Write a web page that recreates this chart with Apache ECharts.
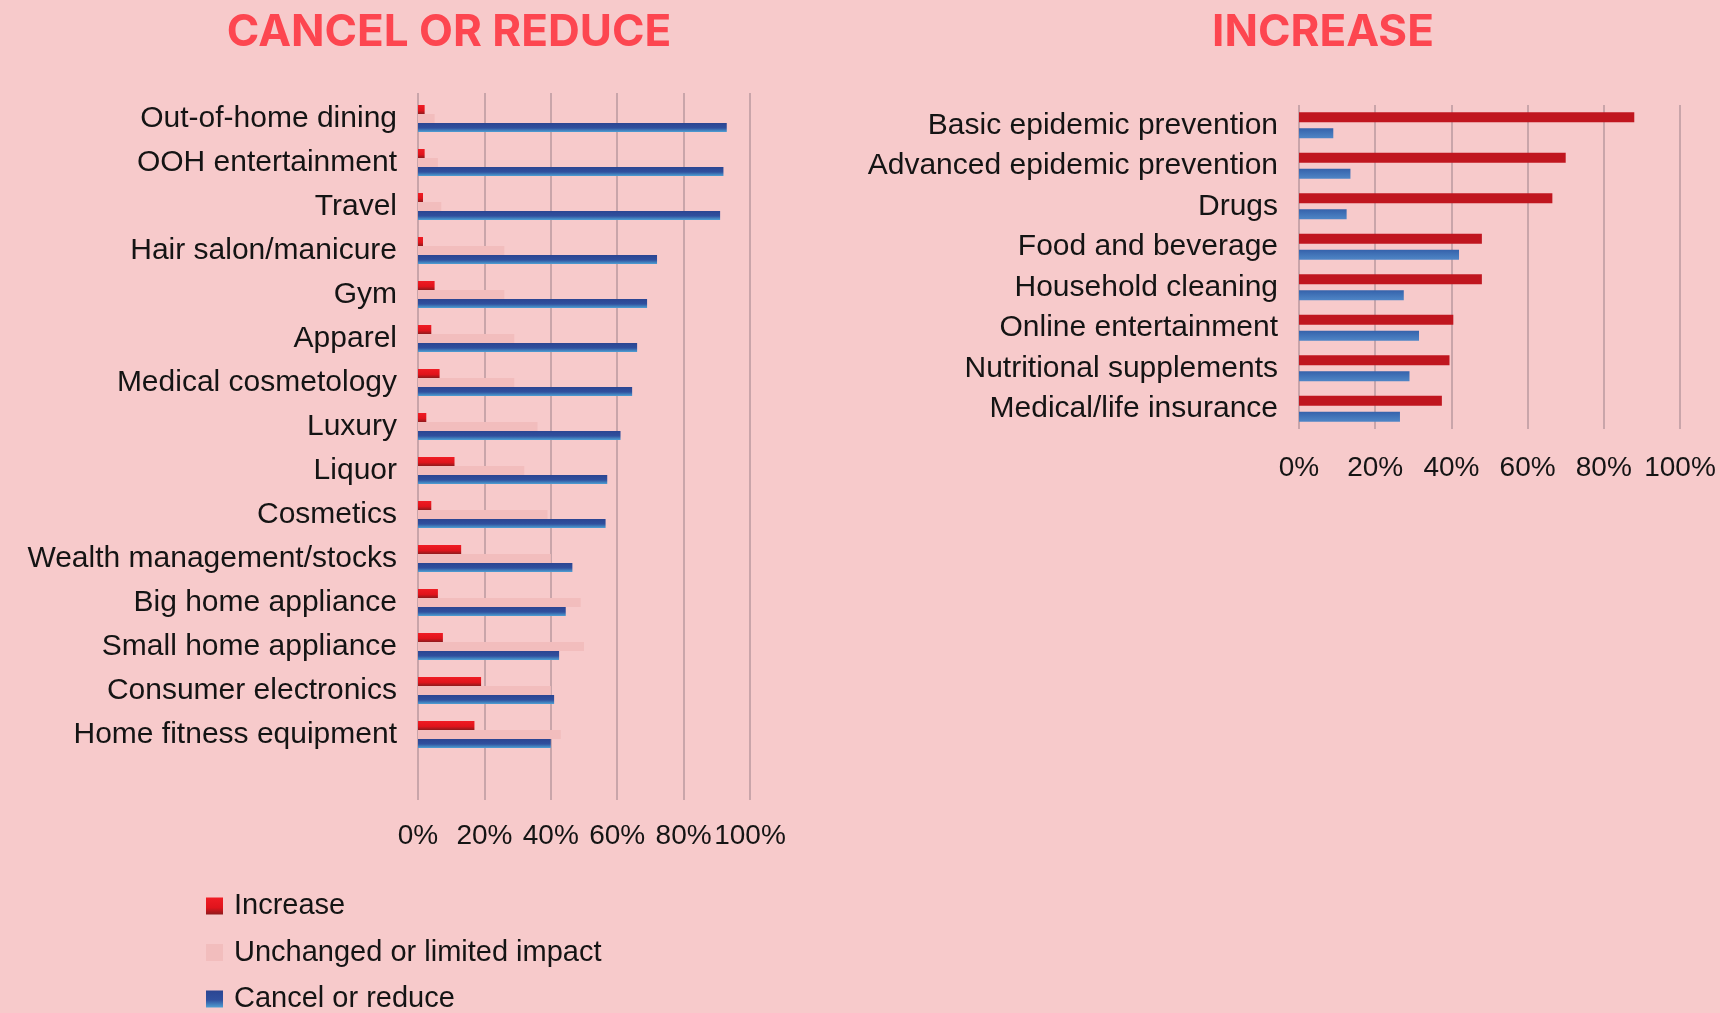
<!DOCTYPE html>
<html>
<head>
<meta charset="utf-8">
<title>Consumer spending intentions</title>
<script src="https://cdn.jsdelivr.net/npm/echarts@6/dist/echarts.min.js"></script>
<style>
  html, body { margin: 0; padding: 0; background: #f7cacb; }
  #chart { width: 1720px; height: 1013px; }
</style>
</head>
<body>
<div id="chart"></div>
<script>
// Spending categories people plan to cancel or reduce (left panel)
const cutCategories = [
  'Out-of-home dining', 'OOH entertainment', 'Travel', 'Hair salon/manicure',
  'Gym', 'Apparel', 'Medical cosmetology', 'Luxury', 'Liquor', 'Cosmetics',
  'Wealth management/stocks', 'Big home appliance', 'Small home appliance',
  'Consumer electronics', 'Home fitness equipment'
];
const cutIncrease  = [2, 2, 1.5, 1.5, 5, 4, 6.5, 2.5, 11, 4, 13, 6, 7.5, 19, 17];
const cutUnchanged = [5, 6, 7, 26, 26, 29, 29, 36, 32, 39, 40, 49, 50, 40, 43];
const cutCancel    = [93, 92, 91, 72, 69, 66, 64.5, 61, 57, 56.5, 46.5, 44.5, 42.5, 41, 40];

// Spending categories people plan to increase (right panel)
const growCategories = [
  'Basic epidemic prevention', 'Advanced epidemic prevention', 'Drugs',
  'Food and beverage', 'Household cleaning', 'Online entertainment',
  'Nutritional supplements', 'Medical/life insurance'
];
const growIncrease = [88, 70, 66.5, 48, 48, 40.5, 39.5, 37.5];
const growCancel   = [9, 13.5, 12.5, 42, 27.5, 31.5, 29, 26.5];

// Shared percentage scale
const pctMin = 0, pctMax = 100, pctStep = 20;
const seriesNames = ['Increase', 'Unchanged or limited impact', 'Cancel or reduce'];

const FONT = '"Liberation Sans", Arial, Helvetica, sans-serif';
const TITLE_FONT = 'Inter, "Liberation Sans", sans-serif';
const TEXT = '#141414';
const GRID_LINE = '#c9a5aa';

const redBright = new echarts.graphic.LinearGradient(0, 0, 0, 1, [
  { offset: 0, color: '#f01c24' }, { offset: 0.6, color: '#e0141c' }, { offset: 1, color: '#8e1a1c' }
]);
const blueBright = new echarts.graphic.LinearGradient(0, 0, 0, 1, [
  { offset: 0, color: '#2b4592' }, { offset: 0.55, color: '#30509e' }, { offset: 1, color: '#4fa0d3' }
]);
const redDeep = '#c0161f';
const blueDeep = new echarts.graphic.LinearGradient(0, 0, 0, 1, [
  { offset: 0, color: '#3562ab' }, { offset: 1, color: '#4f86c6' }
]);

function pctAxis(gridIndex, showLabels, labelMargin) {
  return {
    type: 'value', gridIndex, min: pctMin, max: pctMax, interval: pctStep,
    axisLine: { show: false }, axisTick: { show: false },
    splitLine: { show: showLabels, lineStyle: { color: GRID_LINE, width: 2 } },
    axisLabel: {
      show: showLabels, formatter: '{value}%', margin: labelMargin,
      color: TEXT, fontSize: 28, fontFamily: FONT
    }
  };
}

function catAxis(gridIndex, data, dropPx) {
  return {
    type: 'category', gridIndex, data, inverse: true,
    axisLine: { show: false }, axisTick: { show: false },
    axisLabel: { margin: 21, color: TEXT, fontSize: 30, fontFamily: FONT, padding: [dropPx, 0, 0, 0] }
  };
}

const chart = echarts.init(document.getElementById('chart'));
chart.setOption({
  backgroundColor: '#f7cacb',
  animation: false,
  title: [
    { text: 'CANCEL OR REDUCE', left: 449, top: 11, textAlign: 'center', padding: 0,
      textStyle: { color: '#fd4650', fontSize: 44, fontWeight: 'bold', fontFamily: TITLE_FONT } },
    { text: 'INCREASE', left: 1323, top: 11, textAlign: 'center', padding: 0,
      textStyle: { color: '#fd4650', fontSize: 44, fontWeight: 'bold', fontFamily: TITLE_FONT } }
  ],
  legend: {
    data: seriesNames, orient: 'vertical', left: 206, top: 891, padding: 0,
    height: 130,
    icon: 'rect', itemWidth: 17, itemHeight: 17, itemGap: 16.5,
    textStyle: { color: TEXT, fontSize: 29, fontFamily: FONT, lineHeight: 30, padding: [0, 0, 0, 6] }
  },
  grid: [
    // left panel: full-height gridlines and tick labels
    { left: 418, width: 332, top: 93, height: 707 },
    // left panel: bars
    { left: 418, width: 332, top: 96.5, height: 660 },
    // right panel
    { left: 1299, width: 381, top: 105, height: 324 }
  ],
  xAxis: [
    pctAxis(0, true, 22),
    pctAxis(1, false, 0),
    pctAxis(2, true, 25)
  ],
  yAxis: [
    { type: 'value', gridIndex: 0, show: false },
    catAxis(1, cutCategories, 7),
    catAxis(2, growCategories, 4)
  ],
  series: [
    { name: seriesNames[0], type: 'bar', xAxisIndex: 1, yAxisIndex: 1, data: cutIncrease,
      barWidth: 9, barGap: '0%', itemStyle: { color: redBright } },
    { name: seriesNames[1], type: 'bar', xAxisIndex: 1, yAxisIndex: 1, data: cutUnchanged,
      barWidth: 9, barGap: '0%', itemStyle: { color: '#f2bdbd' } },
    { name: seriesNames[2], type: 'bar', xAxisIndex: 1, yAxisIndex: 1, data: cutCancel,
      barWidth: 9, barGap: '0%', itemStyle: { color: blueBright } },
    { name: seriesNames[0], type: 'bar', xAxisIndex: 2, yAxisIndex: 2, data: growIncrease,
      barWidth: 10, barGap: '60%', itemStyle: { color: redDeep } },
    { name: seriesNames[2], type: 'bar', xAxisIndex: 2, yAxisIndex: 2, data: growCancel,
      barWidth: 10, barGap: '60%', itemStyle: { color: blueDeep } }
  ]
});
</script>
</body>
</html>
